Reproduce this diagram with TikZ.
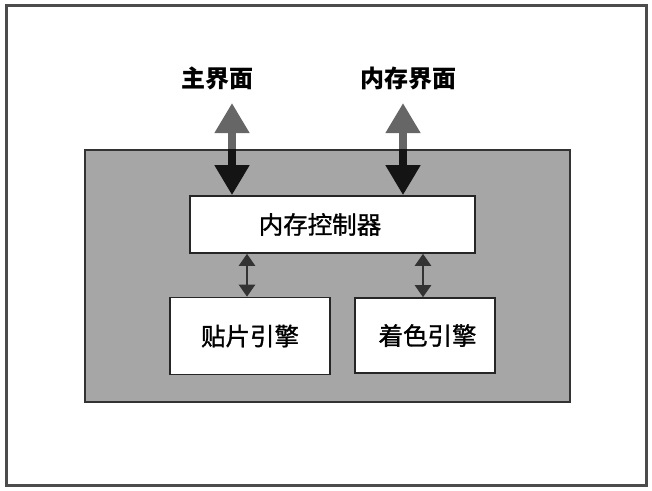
\documentclass[tikz,border=0pt]{standalone}
\usepackage{fontspec}
\newfontfamily\cjk{Noto Sans CJK SC}
\newfontfamily\cjkm[FakeBold=1.2]{Noto Sans CJK SC}
\usetikzlibrary{positioning,arrows.meta}

\begin{document}
\begin{tikzpicture}[x=1pt,y=-1pt,
	box/.style={draw=black!85,line width=1.6pt,fill=white,font=\cjkm\fontsize{24.5}{24.5}\selectfont},
	lbl/.style={font=\cjk\bfseries\fontsize{24}{24}\selectfont},
	bigtip/.style={line width=8pt,-{Triangle[width=33pt,length=30pt]}},
	duo/.style={line width=2.4pt,color=black!80,{Triangle[width=16pt,length=12pt]}-{Triangle[width=16pt,length=12pt]}}]

\useasboundingbox (0,0) rectangle (652,490);
\draw[line width=3pt,color=black!70] (6,5) rectangle (646,485);
\draw[line width=1.8pt,draw=black!80,fill=black!35] (85,150) rectangle (570,402);

\node[lbl] (host) at (217,78) {主界面};
\node[lbl] (mem) at (408,78) {内存界面};
\node[box,minimum width=285pt,minimum height=57pt,label={[font=\cjkm\fontsize{24.5}{24.5}\selectfont,xshift=-12.5pt]center:内存控制器}] (mc) at (332.5,224.5) {};
\node[box,minimum width=160pt,minimum height=77pt] (tex) at (250,336) {贴片引擎};
\node[box,minimum width=140pt,minimum height=75pt] (sha) at (425,335.5) {\hspace{5pt}着色引擎};

\coordinate (t1) at (232,103);
\coordinate (t2) at (403,103);
\foreach \t in {t1,t2}{
	\coordinate (m\t) at (\t |- 0,150);
	\draw[bigtip,color=black!60] (m\t) -- (\t);
	\draw[bigtip,color=black!92] ([yshift=1pt]m\t) -- (\t |- mc.north);
}
\foreach \b/\s in {tex/-3,sha/-2}
	\draw[duo] ([xshift=\s pt]\b.north) -- ([xshift=\s pt]\b.north |- mc.south);
\end{tikzpicture}
\end{document}
